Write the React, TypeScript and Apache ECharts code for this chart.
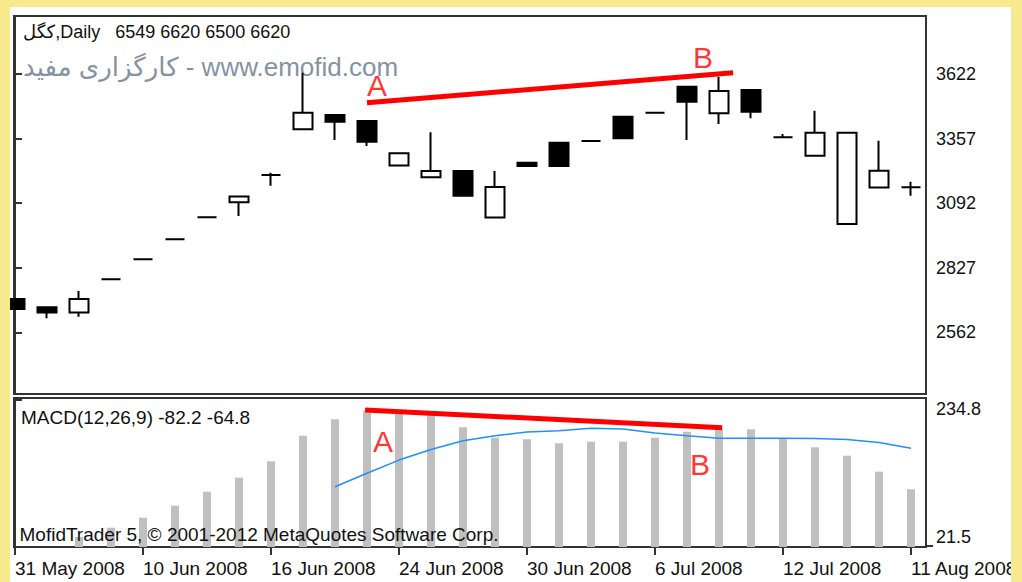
import React, { useEffect, useRef } from "react";
import * as echarts from "echarts";

const FONT = '"Liberation Sans", "DejaVu Sans", sans-serif';

// ---- data ----
const dates = [
  "31 May 2008", "1 Jun 2008", "2 Jun 2008", "7 Jun 2008",
  "10 Jun 2008", "11 Jun 2008", "14 Jun 2008", "15 Jun 2008",
  "16 Jun 2008", "17 Jun 2008", "18 Jun 2008", "21 Jun 2008",
  "24 Jun 2008", "25 Jun 2008", "28 Jun 2008", "29 Jun 2008",
  "30 Jun 2008", "1 Jul 2008", "2 Jul 2008", "5 Jul 2008",
  "6 Jul 2008", "7 Jul 2008", "8 Jul 2008", "9 Jul 2008",
  "12 Jul 2008", "13 Jul 2008", "14 Jul 2008", "15 Jul 2008",
  "11 Aug 2008",
];
const tickIndices = [0, 4, 8, 12, 16, 20, 24, 28];
const priceTicks = [2562, 2827, 3092, 3357, 3622];
const macdTopTick = [234.8];
const macdBottomTick = [21.5];

const opens = [2699, 2665, 2643, 2780, 2862, 2944, 3034, 3096, 3208, 3395, 3454, 3429, 3247, 3198, 3224, 3033, 3258, 3340, 3347, 3447, 3463, 3570, 3461, 3556, 3362, 3287, 3007, 3156, 3157];
const closes = [2658, 2643, 2699, 2780, 2862, 2944, 3034, 3119, 3208, 3463, 3426, 3344, 3297, 3224, 3122, 3158, 3245, 3245, 3347, 3358, 3463, 3508, 3552, 3467, 3362, 3381, 3381, 3225, 3157];
const lows = [2658, 2620, 2626, 2780, 2862, 2944, 3034, 3039, 3163, 3395, 3351, 3327, 3247, 3198, 3122, 3033, 3245, 3245, 3347, 3358, 3463, 3351, 3417, 3440, 3362, 3287, 3007, 3156, 3122];
const highs = [2699, 2665, 2732, 2780, 2862, 2944, 3034, 3119, 3217, 3627, 3454, 3429, 3297, 3383, 3224, 3224, 3258, 3340, 3347, 3447, 3463, 3570, 3611, 3556, 3376, 3471, 3381, 3348, 3180];

const macdHist = [null, null, 34.7, 48.2, 62.8, 80.4, 100.8, 121.3, 145.2, 182.6, 206.6, 219.2, 215.8, 212.9, 194.9, 179.7, 177.4, 171.5, 173.9, 173.9, 179.7, 188.5, 192.0, 192.0, 178.9, 165.7, 153.4, 130.1, 104.3];
const macdSignal = [null, null, null, null, null, null, null, null, null, null, 108, 127.7, 147, 162.5, 175.3, 182.5, 188, 190, 193.5, 192.5, 186.5, 182.5, 179, 178.9, 178.9, 178.6, 177.1, 172.7, 164.2];

const trendMain = [[11.0, 3504], [22.44, 3627]];
const trendMacd = [[10.94, 220.2], [22.1, 194.3]];
const labelsMain = [["A", 11.31, 3575], ["B", 21.5, 3688]];
const labelsMacd = [["A", 11.5, 174], ["B", 21.41, 141]];

const priceMin = 2309;
const priceMax = 3860;
const macdMin = 20;
const macdMax = 237.7;
const xMin = -0.03125;
const xMax = 28.46875;

export default function App() {
  const ref = useRef<HTMLDivElement>(null);
  useEffect(() => {
    document.body.style.margin = "0";
    const chart = echarts.init(ref.current!, null, { renderer: "svg" });
    const candleData = opens.map((o, i) => [i, o, closes[i], lows[i], highs[i]]);
    const histData = macdHist.map((v, i) => [i, v]);
    const sigData = macdSignal.map((v, i) => [i, v]);
    const axisColor = "#333";
    const txt = "#111";
    const plain = (v: number) => String(v);

    const option: any = {
      animation: false,
      grid: [
        { left: 4, top: 9, width: 912, height: 378, show: true, borderColor: axisColor, borderWidth: 2, backgroundColor: "transparent", containLabel: false, outerBoundsMode: "none" },
        { left: 4, top: 391, width: 912, height: 149, show: true, borderColor: axisColor, borderWidth: 2, backgroundColor: "transparent", containLabel: false, outerBoundsMode: "none" },
      ],
      xAxis: [
        { type: "value", gridIndex: 0, min: xMin, max: xMax, show: false },
        {
          type: "value", gridIndex: 1, min: xMin, max: xMax,
          axisLine: { show: true, lineStyle: { color: axisColor, width: 2 } },
          axisTick: { show: true, customValues: tickIndices, length: 8, lineStyle: { color: axisColor, width: 2 } },
          axisLabel: {
            customValues: tickIndices, align: "left", margin: 12, fontSize: 19, fontFamily: FONT, color: txt,
            formatter: (v: number) => dates[Math.round(v)],
          },
          splitLine: { show: false },
        },
      ],
      yAxis: [
        {
          type: "value", gridIndex: 0, position: "right", min: priceMin, max: priceMax,
          axisLine: { show: true, lineStyle: { color: axisColor, width: 2 } },
          axisTick: { show: true, customValues: priceTicks, length: 7, lineStyle: { color: axisColor, width: 2 } },
          axisLabel: { customValues: priceTicks, margin: 10, fontSize: 18, fontFamily: FONT, color: txt, formatter: plain },
          splitLine: { show: false },
        },
        {
          type: "value", gridIndex: 1, position: "right", min: macdMin, max: macdMax,
          axisLine: { show: true, lineStyle: { color: axisColor, width: 2 } },
          axisTick: { show: true, customValues: macdTopTick, length: 7, lineStyle: { color: axisColor, width: 2 } },
          axisLabel: { customValues: macdTopTick, margin: 10, fontSize: 18, fontFamily: FONT, color: txt, verticalAlign: "top", formatter: plain },
          splitLine: { show: false },
        },
        {
          type: "value", gridIndex: 1, position: "right", min: macdMin, max: macdMax,
          axisLine: { show: true, lineStyle: { color: axisColor, width: 2 } },
          axisTick: { show: true, customValues: macdBottomTick, length: 7, lineStyle: { color: axisColor, width: 2 } },
          axisLabel: { customValues: macdBottomTick, margin: 10, fontSize: 18, fontFamily: FONT, color: txt, verticalAlign: "bottom", formatter: plain },
          splitLine: { show: false },
        },
      ],
      series: [
        {
          type: "candlestick", xAxisIndex: 0, yAxisIndex: 0, data: candleData, barWidth: 19, clip: true,
          itemStyle: { color: "#fff", color0: "#000", borderColor: "#000", borderColor0: "#000", borderColorDoji: "#000", borderWidth: 2 },
          z: 3,
        },
        {
          type: "line", xAxisIndex: 0, yAxisIndex: 0, data: trendMain, symbol: "none",
          lineStyle: { color: "#ff0000", width: 5 }, z: 4,
        },
        {
          type: "scatter", xAxisIndex: 0, yAxisIndex: 0, symbolSize: 1,
          itemStyle: { color: "transparent" },
          data: labelsMain.map((l) => ({ name: l[0], value: [l[1], l[2]] })),
          label: { show: true, position: "inside", formatter: (p: any) => p.name, fontSize: 30, fontFamily: FONT, color: "#ff0000" },
          z: 5,
        },
        {
          type: "bar", xAxisIndex: 1, yAxisIndex: 1, data: histData, barWidth: 8, clip: true,
          itemStyle: { color: "#c0c0c0" }, z: 2,
        },
        {
          type: "line", xAxisIndex: 1, yAxisIndex: 1, data: sigData, symbol: "none", showSymbol: false,
          lineStyle: { color: "#1e90ff", width: 1.5 }, z: 3,
        },
        {
          type: "line", xAxisIndex: 1, yAxisIndex: 1, data: trendMacd, symbol: "none",
          lineStyle: { color: "#ff0000", width: 5 }, z: 4,
        },
        {
          type: "scatter", xAxisIndex: 1, yAxisIndex: 1, symbolSize: 1,
          itemStyle: { color: "transparent" },
          data: labelsMacd.map((l) => ({ name: l[0], value: [l[1], l[2]] })),
          label: { show: true, position: "inside", formatter: (p: any) => p.name, fontSize: 30, fontFamily: FONT, color: "#ff0000" },
          z: 5,
        },
      ],
      graphic: [
        {
          type: "text", x: 13, y: 25, z: 0,
          style: { text: "کگل,Daily\u00a0\u00a0\u00a06549 6620 6500 6620", fill: txt, font: `18px ${FONT}`, verticalAlign: "middle" },
        },
        {
          type: "text", x: 13, y: 60, z: 0,
          style: { text: "کارگزاری مفید - www.emofid.com", fill: "#8592a3", font: `26px ${FONT}`, verticalAlign: "middle" },
        },
        {
          type: "text", x: 11, y: 410, z: 100,
          style: { text: "MACD(12,26,9) -82.2 -64.8", fill: txt, font: `19px ${FONT}`, verticalAlign: "middle" },
        },
        {
          type: "text", x: 9.5, y: 527, z: 100,
          style: { text: "MofidTrader 5, © 2001-2012 MetaQuotes Software Corp.", fill: txt, font: `19px ${FONT}`, verticalAlign: "middle" },
        },
      ],
    };
    chart.setOption(option);
    return () => chart.dispose();
  }, []);
  return (
    <div style={{ position: "relative", width: 1022, height: 582, background: "#F8E98E", overflow: "hidden" }}>
      <div ref={ref} style={{ position: "absolute", left: 10, top: 7, width: 1001, height: 575, background: "#fff" }} />
    </div>
  );
}
